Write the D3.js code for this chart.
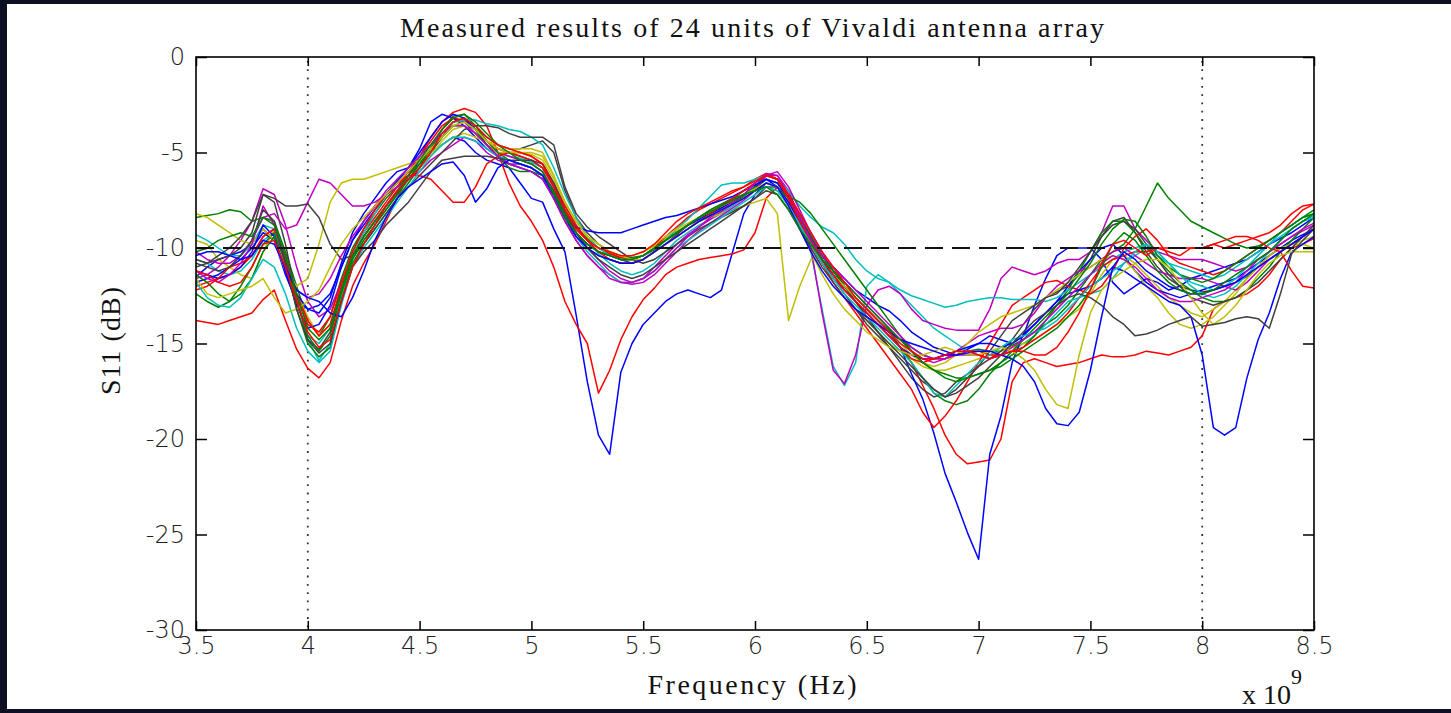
<!DOCTYPE html>
<html><head><meta charset="utf-8">
<script src="https://cdn.jsdelivr.net/npm/d3@7/dist/d3.min.js"></script>
<style>html,body{margin:0;padding:0;background:#0c1022;overflow:hidden}svg{display:block}</style>
</head><body><svg id="c" width="1451" height="713"></svg>
<script>
// ---------- DATA ----------
const freqGHz = [3.50,3.55,3.60,3.65,3.70,3.75,3.80,3.85,3.90,3.95,
4.00,4.05,4.10,4.15,4.20,4.25,4.30,4.35,4.40,4.45,
4.50,4.55,4.60,4.65,4.70,4.75,4.80,4.85,4.90,4.95,
5.00,5.05,5.10,5.15,5.20,5.25,5.30,5.35,5.40,5.45,
5.50,5.55,5.60,5.65,5.70,5.75,5.80,5.85,5.90,5.95,
6.00,6.05,6.10,6.15,6.20,6.25,6.30,6.35,6.40,6.45,
6.50,6.55,6.60,6.65,6.70,6.75,6.80,6.85,6.90,6.95,
7.00,7.05,7.10,7.15,7.20,7.25,7.30,7.35,7.40,7.45,
7.50,7.55,7.60,7.65,7.70,7.75,7.80,7.85,7.90,7.95,
8.00,8.05,8.10,8.15,8.20,8.25,8.30,8.35,8.40,8.45,8.50];

const unit01 = [-11.5,-11.0,-10.6,-10.4,-10.2,-9.8,-9.0,-9.6,-11.4,-12.8,
-13.2,-13.0,-12.4,-11.0,-9.6,-8.6,-7.8,-7.2,-6.6,-6.0,
-5.6,-5.0,-4.6,-4.2,-4.4,-5.0,-5.4,-5.6,-5.8,-6.6,
-7.4,-7.6,-9.0,-10.2,-13.5,-17.0,-19.8,-20.8,-16.5,-15.0,
-14.0,-13.4,-12.8,-12.4,-12.2,-12.4,-12.6,-12.2,-10.2,-8.2,
-7.2,-6.6,-6.8,-7.6,-8.6,-9.6,-10.4,-11.0,-11.6,-12.2,
-12.6,-13.0,-13.3,-13.8,-14.4,-14.8,-15.2,-15.4,-15.6,-15.3,
-15.0,-14.6,-14.8,-15.0,-14.6,-13.0,-11.6,-10.4,-10.0,-10.0,
-10.0,-10.6,-11.8,-12.4,-12.0,-11.6,-11.8,-12.2,-12.0,-11.6,
-11.4,-11.2,-11.0,-10.8,-10.6,-10.2,-9.8,-9.5,-9.2,-8.8,-8.4];
const unit02 = [-8.4,-8.3,-8.2,-8.0,-8.1,-8.6,-8.4,-8.6,-10.2,-12.0,
-13.8,-14.6,-13.6,-11.6,-10.0,-9.0,-8.2,-7.4,-6.8,-6.2,
-5.6,-4.8,-4.0,-3.4,-3.3,-3.8,-4.4,-4.8,-5.0,-5.2,
-5.4,-5.8,-6.8,-8.0,-8.9,-9.5,-10.0,-10.3,-10.4,-10.5,
-10.4,-10.1,-9.6,-9.2,-8.8,-8.4,-8.2,-7.9,-7.6,-7.2,
-6.9,-6.4,-6.6,-7.4,-8.4,-9.4,-10.4,-11.2,-12.0,-12.6,
-13.2,-13.8,-14.3,-14.8,-15.2,-15.6,-15.8,-15.8,-15.6,-15.4,
-15.3,-15.4,-15.4,-15.1,-14.8,-14.4,-14.0,-13.6,-13.0,-12.2,
-11.4,-10.6,-10.2,-9.8,-9.0,-7.8,-6.6,-7.4,-8.0,-8.6,
-8.9,-9.2,-9.5,-9.8,-10.0,-9.9,-9.6,-9.2,-8.8,-8.4,-8.0];
const unit03 = [-13.8,-13.9,-14.0,-13.8,-13.6,-13.4,-12.7,-12.2,-13.8,-15.3,
-16.3,-16.8,-16.0,-13.8,-12.0,-10.8,-9.8,-8.6,-7.4,-6.2,
-5.2,-4.2,-3.4,-2.9,-2.7,-2.9,-3.6,-5.0,-6.6,-7.8,
-8.6,-9.6,-11.0,-12.8,-14.0,-15.0,-17.6,-16.4,-14.8,-13.6,
-12.7,-12.1,-11.4,-11.0,-10.8,-10.6,-10.5,-10.4,-10.3,-10.1,
-9.2,-7.4,-6.8,-7.6,-8.8,-9.8,-10.8,-11.6,-12.2,-12.8,
-13.4,-14.0,-14.6,-15.2,-16.0,-17.2,-18.4,-19.8,-20.8,-21.3,
-21.2,-21.1,-20.0,-17.0,-16.0,-15.8,-16.0,-16.2,-16.1,-16.0,
-15.8,-15.6,-15.7,-15.7,-15.6,-15.4,-15.5,-15.6,-15.4,-15.2,
-14.6,-13.2,-12.8,-12.6,-12.4,-12.0,-11.4,-10.6,-10.0,-9.8,-9.5];
const unit04 = [-10.6,-10.8,-11.2,-11.4,-11.2,-10.6,-9.6,-9.2,-10.4,-12.6,
-14.8,-15.9,-15.0,-12.6,-10.6,-9.6,-8.8,-8.0,-7.2,-6.4,
-5.8,-5.0,-4.2,-3.6,-3.6,-4.0,-4.6,-5.0,-5.2,-5.3,
-5.5,-5.8,-6.6,-7.8,-8.8,-9.6,-10.3,-10.8,-11.2,-11.4,
-11.2,-10.8,-10.2,-9.6,-9.2,-8.8,-8.5,-8.2,-7.8,-7.4,
-7.0,-6.6,-6.8,-7.8,-8.8,-10.2,-13.2,-16.2,-17.2,-16.0,
-12.0,-11.4,-11.8,-12.4,-13.0,-13.6,-14.2,-14.6,-15.0,-15.4,
-15.6,-15.8,-15.6,-15.4,-15.0,-14.6,-14.0,-13.4,-12.8,-12.6,
-12.4,-12.2,-11.6,-10.8,-10.4,-10.0,-10.4,-10.8,-11.0,-11.2,
-11.4,-11.6,-11.4,-11.0,-10.6,-10.2,-9.8,-9.4,-9.0,-8.6,-8.3];
const unit05 = [-11.6,-11.4,-11.0,-10.4,-9.6,-8.6,-6.9,-7.2,-8.8,-11.0,
-12.8,-13.6,-13.2,-11.8,-10.4,-9.4,-8.6,-7.8,-7.0,-6.2,
-5.4,-4.6,-3.8,-3.2,-3.4,-4.0,-4.6,-5.0,-5.2,-5.4,
-5.6,-6.0,-7.0,-8.2,-9.2,-10.0,-10.6,-11.2,-11.6,-11.8,
-11.6,-11.0,-10.4,-9.8,-9.3,-8.9,-8.5,-8.1,-7.7,-7.2,
-6.8,-6.2,-6.2,-7.0,-8.4,-10.0,-13.4,-16.4,-17.1,-15.6,
-13.0,-12.2,-12.0,-12.4,-13.2,-13.8,-14.0,-14.2,-14.3,-14.3,
-14.3,-13.2,-11.6,-11.0,-11.2,-11.4,-11.2,-10.8,-10.6,-10.6,
-10.2,-9.2,-7.8,-7.8,-9.0,-9.6,-10.2,-10.4,-10.6,-10.6,
-10.6,-10.8,-11.0,-11.2,-11.0,-10.6,-10.2,-9.8,-9.4,-9.1,-8.8];
const unit06 = [-9.6,-9.8,-10.6,-11.0,-11.4,-11.6,-10.2,-9.0,-10.6,-12.4,
-13.6,-14.6,-14.0,-12.0,-10.4,-9.4,-8.6,-7.8,-7.0,-6.4,
-5.8,-5.2,-4.4,-3.8,-3.6,-4.0,-4.6,-5.0,-5.0,-5.0,
-5.1,-5.4,-6.4,-7.6,-8.6,-9.4,-10.0,-10.2,-10.4,-10.4,
-10.2,-9.9,-9.5,-9.1,-8.8,-8.6,-8.4,-8.2,-8.0,-7.8,
-7.6,-7.4,-8.2,-13.8,-12.0,-10.6,-10.7,-11.0,-12.0,-12.8,
-13.8,-14.4,-15.0,-15.4,-15.8,-16.2,-16.4,-16.4,-16.2,-16.0,
-15.8,-15.6,-15.4,-15.2,-15.0,-14.8,-14.4,-14.0,-13.6,-13.2,
-12.4,-11.4,-10.6,-10.4,-10.8,-11.4,-12.0,-12.6,-13.0,-13.4,
-13.6,-13.2,-12.8,-12.2,-11.6,-11.0,-10.4,-10.0,-9.8,-9.6,-9.4];
const unit07 = [-10.6,-10.8,-10.6,-10.4,-10.0,-9.2,-7.2,-7.6,-9.8,-12.6,
-14.8,-15.3,-14.4,-12.2,-10.4,-9.4,-8.6,-7.8,-7.1,-6.4,
-5.8,-5.0,-4.2,-3.4,-3.2,-3.6,-4.2,-4.6,-4.8,-4.8,
-4.6,-4.4,-5.0,-7.0,-8.4,-9.2,-9.8,-10.2,-10.6,-10.8,
-10.6,-10.2,-9.8,-9.3,-8.8,-8.4,-8.0,-7.7,-7.4,-7.0,
-6.6,-6.2,-6.4,-7.2,-8.2,-9.2,-10.2,-11.2,-12.0,-12.8,
-13.6,-14.4,-15.2,-16.0,-16.8,-17.4,-17.8,-17.6,-17.0,-16.6,
-16.2,-15.8,-15.4,-14.8,-14.0,-13.2,-12.6,-12.3,-12.0,-11.4,
-10.6,-9.4,-8.6,-8.4,-9.2,-10.2,-11.0,-11.6,-12.0,-12.2,
-12.3,-12.2,-12.0,-11.8,-11.5,-11.0,-10.6,-10.2,-9.8,-9.4,-9.0];
const unit08 = [-11.8,-11.6,-11.4,-11.0,-10.6,-10.0,-9.2,-9.6,-11.0,-12.4,
-13.2,-13.4,-12.6,-10.8,-9.2,-8.2,-7.4,-6.6,-6.0,-5.8,
-4.8,-3.4,-3.0,-3.2,-3.6,-4.2,-4.8,-5.2,-5.4,-5.6,
-5.8,-6.2,-7.0,-8.2,-9.2,-9.8,-10.2,-10.4,-10.6,-10.6,
-10.4,-10.0,-9.6,-9.2,-8.8,-8.5,-8.2,-7.9,-7.6,-7.2,
-6.8,-6.4,-6.6,-7.4,-8.4,-9.4,-10.4,-11.2,-12.0,-12.6,
-13.2,-13.8,-14.4,-15.2,-16.6,-17.9,-19.7,-21.8,-23.3,-24.9,
-26.3,-20.8,-18.8,-16.0,-14.5,-14.0,-13.4,-12.8,-12.0,-11.2,
-10.6,-10.0,-9.8,-10.4,-11.2,-11.8,-12.2,-12.4,-12.6,-12.4,
-12.2,-12.0,-11.8,-11.6,-11.2,-10.8,-10.4,-10.0,-9.6,-9.3,-9.0];
const unit09 = [-12.4,-12.8,-13.1,-12.8,-12.0,-11.0,-9.8,-9.2,-10.8,-13.2,
-15.0,-15.7,-15.2,-12.8,-10.8,-9.8,-9.0,-8.2,-7.4,-6.6,
-5.8,-4.8,-3.8,-3.1,-3.0,-3.6,-4.4,-5.0,-5.4,-5.6,
-5.8,-6.2,-7.4,-8.6,-9.4,-10.0,-10.4,-10.6,-10.8,-10.8,
-10.6,-10.2,-9.8,-9.4,-9.0,-8.6,-8.3,-8.0,-7.7,-7.3,
-6.8,-6.2,-6.4,-7.4,-8.4,-9.4,-10.4,-11.2,-12.0,-12.6,
-13.2,-13.8,-14.4,-15.2,-16.0,-16.8,-17.6,-18.0,-18.2,-18.0,
-17.4,-16.6,-16.0,-15.6,-15.2,-14.6,-13.8,-13.0,-12.2,-11.2,
-10.2,-9.2,-8.6,-8.6,-9.2,-10.0,-10.6,-11.2,-11.8,-12.2,
-12.6,-12.8,-12.8,-12.6,-12.2,-11.6,-11.0,-10.2,-9.6,-9.0,-8.4];
const unit10 = [-12.0,-11.8,-11.6,-11.4,-11.0,-10.4,-9.4,-9.0,-10.6,-12.6,
-14.0,-14.4,-13.6,-11.8,-10.2,-9.2,-8.4,-7.6,-6.8,-6.0,
-5.2,-4.4,-3.6,-3.2,-3.3,-3.8,-4.4,-4.8,-5.0,-5.2,
-5.4,-5.8,-6.8,-8.0,-9.0,-9.6,-10.0,-10.3,-10.5,-10.6,
-10.4,-10.0,-9.4,-8.9,-8.4,-8.0,-7.7,-7.4,-7.1,-6.8,
-6.4,-6.1,-6.4,-7.4,-8.6,-9.8,-10.8,-11.8,-12.6,-13.4,
-14.2,-15.0,-15.8,-16.6,-17.4,-18.6,-19.4,-18.8,-18.0,-17.0,
-16.0,-15.0,-14.0,-13.0,-12.6,-12.2,-11.8,-11.7,-12.0,-12.2,
-12.4,-12.0,-11.2,-10.0,-9.4,-9.0,-9.6,-10.4,-10.8,-11.0,
-11.2,-11.4,-11.2,-10.8,-10.4,-10.0,-9.6,-9.2,-8.6,-8.0,-7.7];
const unit11 = [-9.3,-9.6,-10.0,-10.4,-10.4,-9.8,-8.8,-9.0,-10.6,-12.8,
-14.6,-15.0,-14.2,-12.0,-10.2,-9.2,-8.2,-7.2,-6.4,-5.8,
-5.2,-4.6,-4.0,-3.4,-3.3,-3.3,-3.5,-3.6,-3.8,-3.9,
-4.2,-4.6,-5.8,-7.2,-8.4,-9.4,-10.0,-10.4,-10.6,-10.6,
-10.4,-10.0,-9.6,-9.0,-8.5,-7.9,-7.3,-6.7,-6.6,-6.6,
-6.4,-6.2,-6.4,-7.0,-7.8,-8.4,-8.9,-9.2,-9.8,-10.6,
-11.2,-11.6,-11.8,-12.2,-12.5,-12.7,-12.9,-13.1,-13.0,-12.8,
-12.7,-12.6,-12.6,-12.7,-12.7,-12.7,-12.8,-12.6,-12.2,-11.8,
-11.4,-11.0,-10.6,-10.2,-10.0,-9.8,-10.2,-10.8,-11.4,-11.8,
-12.0,-12.2,-12.0,-11.6,-11.0,-10.4,-9.8,-9.2,-8.8,-8.4,-8.2];
const unit12 = [-10.2,-10.6,-10.8,-10.8,-10.4,-9.6,-8.4,-8.2,-9.0,-8.8,
-7.6,-6.4,-6.6,-7.2,-7.8,-7.8,-7.6,-7.2,-6.8,-6.4,
-6.0,-5.4,-5.0,-4.6,-4.2,-4.4,-5.0,-5.4,-5.6,-5.6,
-5.8,-6.2,-7.4,-8.6,-9.6,-10.4,-11.0,-11.4,-11.8,-11.9,
-11.8,-11.4,-10.8,-10.2,-9.6,-9.1,-8.7,-8.3,-7.9,-7.5,
-7.0,-6.2,-6.0,-6.8,-8.0,-9.2,-10.2,-11.0,-11.8,-12.4,
-13.0,-13.6,-14.2,-14.8,-15.4,-15.8,-16.0,-15.8,-15.4,-15.0,
-14.6,-14.4,-14.2,-14.2,-14.0,-13.4,-12.6,-12.0,-11.6,-11.2,
-11.0,-10.6,-10.2,-10.0,-10.4,-10.8,-11.2,-11.4,-11.6,-11.6,
-11.6,-11.8,-12.0,-12.2,-11.8,-11.2,-10.6,-10.2,-9.8,-9.4,-9.0];
const unit13 = [-8.2,-8.4,-8.8,-9.2,-9.6,-9.8,-9.0,-9.6,-11.2,-12.0,
-11.6,-9.8,-7.6,-6.6,-6.4,-6.4,-6.2,-6.0,-5.8,-5.6,
-5.4,-5.0,-4.6,-4.2,-4.0,-4.2,-4.4,-4.6,-4.8,-4.8,
-4.8,-5.0,-6.2,-7.6,-8.6,-9.4,-9.8,-10.2,-10.4,-10.4,
-10.2,-9.8,-9.4,-9.0,-8.7,-8.4,-8.1,-7.8,-7.5,-7.2,
-6.9,-6.6,-6.8,-7.6,-8.6,-9.6,-10.6,-11.4,-12.0,-12.6,
-13.2,-13.8,-14.4,-15.0,-15.6,-16.0,-16.2,-16.0,-15.6,-15.0,
-14.4,-14.0,-13.6,-13.4,-13.2,-13.0,-12.6,-12.2,-11.8,-11.4,
-11.0,-10.6,-10.4,-10.6,-11.2,-12.0,-12.6,-13.4,-14.0,-14.2,
-14.0,-13.6,-13.0,-12.4,-11.6,-11.0,-10.4,-10.0,-9.8,-9.8,-10.0];
const unit14 = [-11.0,-10.8,-10.4,-10.0,-9.4,-8.6,-7.2,-7.4,-7.8,-7.8,
-7.7,-8.4,-9.8,-10.6,-10.4,-9.8,-9.0,-8.2,-7.4,-6.8,
-6.2,-5.6,-5.0,-4.4,-3.8,-3.6,-3.6,-3.7,-4.0,-4.2,
-4.2,-4.2,-4.6,-6.8,-8.2,-8.9,-9.4,-9.8,-10.2,-10.6,
-10.8,-10.6,-10.2,-9.8,-9.4,-9.0,-8.7,-8.4,-8.1,-7.8,
-7.4,-6.8,-6.8,-7.4,-8.4,-9.4,-10.6,-11.6,-12.4,-13.2,
-14.0,-14.6,-15.2,-15.8,-16.4,-17.0,-17.4,-17.8,-17.4,-16.8,
-16.2,-15.4,-14.6,-13.8,-13.4,-13.0,-12.6,-12.4,-11.8,-11.0,
-10.2,-9.4,-8.8,-8.6,-9.0,-9.8,-10.6,-11.4,-12.0,-12.6,
-12.8,-13.0,-12.8,-12.6,-12.2,-11.8,-11.2,-10.6,-10.0,-9.4,-8.8];
const unit15 = [-11.2,-11.4,-11.6,-11.4,-11.0,-10.2,-8.8,-9.4,-11.2,-13.0,
-14.2,-14.0,-13.0,-11.0,-9.6,-8.8,-8.0,-7.2,-6.5,-5.8,
-5.0,-4.2,-3.4,-3.0,-3.2,-3.8,-4.6,-5.2,-5.6,-5.8,
-6.0,-6.4,-7.4,-8.4,-8.9,-9.1,-9.2,-9.2,-9.2,-9.0,
-8.8,-8.6,-8.4,-8.3,-8.1,-7.9,-7.7,-7.5,-7.3,-7.0,
-6.7,-6.4,-6.8,-7.6,-8.6,-9.6,-10.6,-11.4,-12.2,-12.8,
-13.4,-14.0,-14.6,-15.2,-15.6,-15.8,-15.8,-15.6,-15.4,-15.2,
-15.0,-15.0,-15.2,-15.0,-14.6,-14.0,-13.4,-12.8,-12.4,-12.2,
-12.0,-11.6,-11.0,-11.2,-11.6,-12.0,-12.4,-12.8,-13.0,-13.6,
-15.6,-19.4,-19.8,-19.4,-16.8,-14.8,-13.4,-11.6,-10.2,-9.8,-9.4];
const unit16 = [-11.4,-11.8,-12.4,-12.8,-12.4,-11.6,-10.2,-9.4,-10.6,-12.8,
-14.6,-15.4,-14.6,-12.4,-10.6,-9.6,-8.8,-8.0,-7.2,-6.4,
-5.6,-4.8,-4.2,-3.6,-3.4,-3.8,-4.6,-5.2,-5.8,-6.0,
-6.0,-6.2,-7.0,-8.2,-9.2,-9.8,-10.2,-10.4,-10.6,-10.6,
-10.4,-10.0,-9.6,-9.2,-8.8,-8.4,-8.0,-7.7,-7.4,-7.2,
-7.0,-6.8,-7.0,-7.3,-7.6,-8.2,-9.0,-9.8,-10.6,-11.4,
-12.2,-13.0,-13.8,-14.6,-15.4,-16.0,-16.4,-16.6,-16.8,-16.8,
-16.6,-16.4,-16.0,-15.4,-14.8,-14.2,-13.6,-13.0,-12.4,-11.6,
-10.8,-9.8,-9.0,-8.5,-8.6,-9.4,-10.4,-11.0,-11.4,-11.6,
-11.8,-11.6,-11.2,-10.8,-10.4,-10.0,-9.6,-9.2,-8.8,-8.4,-8.2];
const unit17 = [-12.2,-12.0,-11.6,-11.0,-10.8,-10.4,-9.4,-9.0,-10.4,-12.4,
-13.8,-14.6,-14.0,-12.0,-10.2,-9.0,-8.0,-7.2,-6.6,-6.2,
-6.2,-6.4,-7.0,-7.6,-7.6,-6.8,-5.6,-5.2,-5.0,-5.0,
-5.2,-5.6,-6.6,-7.8,-8.8,-9.6,-10.2,-10.6,-10.8,-10.8,
-10.6,-10.2,-9.8,-9.4,-9.0,-8.6,-8.2,-7.8,-7.4,-7.0,
-6.6,-6.2,-6.4,-7.4,-8.6,-9.6,-10.6,-11.4,-12.2,-12.8,
-13.4,-14.0,-14.6,-15.2,-15.8,-16.0,-15.8,-15.6,-15.6,-15.4,
-15.4,-15.6,-15.6,-15.4,-15.2,-14.8,-14.4,-14.0,-13.4,-12.6,
-11.8,-11.0,-10.6,-10.4,-10.2,-10.2,-10.0,-10.0,-10.0,-10.0,
-10.0,-9.8,-9.6,-9.4,-9.4,-9.6,-10.0,-10.2,-11.2,-12.0,-12.1];
const unit18 = [-11.8,-12.6,-13.0,-13.1,-12.6,-11.6,-10.6,-11.0,-12.4,-14.2,
-15.4,-16.0,-15.4,-13.0,-11.0,-10.0,-9.2,-8.4,-7.6,-6.8,
-6.0,-5.2,-4.6,-4.2,-4.2,-4.4,-4.8,-5.2,-5.4,-5.6,
-5.8,-6.2,-7.2,-8.4,-9.4,-10.2,-10.8,-11.4,-11.8,-11.8,
-11.6,-11.2,-10.6,-10.0,-9.6,-9.2,-8.8,-8.4,-8.0,-7.6,
-7.2,-6.8,-7.0,-7.8,-8.8,-9.8,-10.8,-11.6,-12.4,-13.0,
-13.6,-14.2,-14.8,-15.4,-16.0,-16.8,-17.6,-17.8,-17.2,-16.6,
-16.0,-15.6,-15.2,-14.8,-14.6,-14.4,-14.2,-13.8,-13.2,-12.6,
-12.0,-11.6,-11.2,-10.8,-10.2,-9.8,-10.2,-10.8,-11.4,-12.0,
-12.4,-12.6,-12.4,-12.0,-11.4,-10.8,-10.2,-9.6,-9.0,-8.6,-8.4];
const unit19 = [-11.2,-11.6,-11.8,-11.4,-10.8,-9.8,-7.8,-8.8,-10.8,-12.2,
-12.6,-12.4,-11.6,-10.4,-9.4,-8.6,-7.8,-7.0,-6.4,-5.8,
-5.2,-4.6,-4.0,-3.6,-3.6,-4.0,-4.6,-5.2,-5.6,-5.8,
-6.0,-6.4,-7.4,-8.6,-9.6,-10.4,-11.0,-11.6,-11.8,-11.8,
-11.6,-11.2,-10.6,-10.0,-9.4,-8.9,-8.4,-8.0,-7.6,-7.2,
-6.6,-6.1,-6.2,-7.2,-8.4,-9.6,-10.4,-11.0,-11.6,-12.2,
-12.8,-13.4,-14.0,-14.6,-15.2,-15.6,-15.8,-15.8,-15.6,-15.6,
-15.6,-15.8,-15.6,-15.2,-14.8,-14.4,-13.8,-13.2,-12.6,-12.0,
-11.4,-10.8,-10.4,-10.6,-11.0,-11.6,-12.2,-12.6,-12.8,-12.8,
-12.6,-12.4,-12.2,-11.8,-11.2,-10.6,-10.2,-9.8,-9.4,-9.0,-8.7];
const unit20 = [-11.6,-12.4,-12.6,-12.4,-12.2,-12.0,-11.6,-12.6,-13.4,-13.2,
-12.8,-12.2,-11.0,-9.8,-9.0,-8.4,-7.8,-7.2,-6.6,-6.0,
-5.4,-4.8,-4.2,-3.6,-3.4,-3.8,-4.4,-4.8,-5.0,-5.0,
-5.0,-5.2,-6.2,-7.6,-8.6,-9.4,-9.8,-10.2,-10.4,-10.6,
-10.6,-10.2,-9.8,-9.4,-9.0,-8.6,-8.3,-8.0,-7.7,-7.4,
-7.0,-6.6,-6.8,-7.8,-9.0,-10.2,-11.4,-12.4,-13.2,-13.8,
-14.4,-14.8,-15.2,-15.4,-15.6,-15.6,-15.4,-15.2,-15.4,-15.6,
-15.6,-15.4,-15.2,-15.4,-15.8,-16.4,-17.4,-18.2,-18.4,-15.6,
-13.4,-12.2,-11.6,-11.2,-10.8,-10.6,-10.6,-11.0,-11.8,-12.6,
-13.4,-14.0,-13.6,-13.0,-12.2,-11.4,-10.8,-10.4,-10.2,-10.2,-10.2];
const unit21 = [-10.8,-11.0,-11.2,-11.0,-10.4,-9.6,-8.0,-8.6,-10.8,-13.2,
-14.8,-15.5,-15.0,-12.8,-11.0,-10.2,-9.6,-8.8,-8.2,-7.6,
-6.8,-6.0,-5.4,-5.3,-5.2,-5.2,-5.2,-5.3,-5.4,-5.4,
-5.4,-5.6,-6.6,-8.0,-9.2,-10.0,-10.6,-11.0,-11.4,-11.6,
-11.4,-11.0,-10.6,-10.2,-9.8,-9.4,-9.0,-8.6,-8.2,-7.8,
-7.4,-7.0,-7.2,-8.0,-9.0,-10.0,-11.0,-11.8,-12.6,-13.2,
-13.8,-14.4,-15.0,-15.6,-16.2,-16.8,-17.4,-17.8,-17.6,-17.2,
-16.8,-16.2,-15.6,-15.0,-14.4,-13.8,-13.4,-13.0,-12.6,-12.4,
-12.6,-13.0,-13.6,-14.0,-14.6,-14.5,-14.3,-14.0,-13.8,-13.6,
-14.1,-14.0,-13.9,-13.7,-13.6,-13.7,-14.2,-12.4,-10.3,-9.6,-9.0];
const unit22 = [-10.4,-10.2,-10.2,-10.4,-10.6,-10.4,-9.6,-9.8,-11.0,-12.2,
-12.6,-12.8,-13.4,-13.6,-12.6,-11.2,-9.6,-8.4,-7.4,-6.8,
-6.4,-6.0,-5.6,-5.5,-6.2,-7.6,-6.9,-5.8,-5.4,-5.6,
-5.8,-6.2,-7.2,-8.4,-9.4,-10.0,-10.4,-10.6,-10.8,-10.8,
-10.6,-10.2,-9.8,-9.4,-9.0,-8.6,-8.3,-8.0,-7.7,-7.4,
-7.0,-6.6,-6.8,-7.8,-9.0,-10.2,-11.2,-12.0,-12.6,-13.2,
-13.6,-14.0,-14.4,-14.8,-15.0,-15.2,-15.4,-15.6,-15.6,-15.5,
-15.4,-15.4,-15.6,-15.8,-16.2,-17.0,-18.4,-19.2,-19.3,-18.6,
-16.4,-13.6,-11.0,-10.2,-10.6,-11.2,-11.6,-12.0,-12.2,-12.4,
-12.4,-12.2,-12.0,-11.8,-11.4,-11.0,-10.6,-10.2,-9.8,-9.4,-9.0];
const unit23 = [-10.2,-10.0,-9.6,-9.4,-9.2,-9.4,-8.4,-8.8,-10.4,-12.4,
-14.2,-14.8,-14.2,-12.2,-10.4,-9.4,-8.6,-7.8,-7.0,-6.2,
-5.4,-4.6,-3.8,-3.2,-3.0,-3.4,-4.0,-4.6,-5.0,-5.4,
-5.6,-6.0,-7.2,-8.4,-9.2,-9.8,-10.2,-10.4,-10.6,-10.6,
-10.4,-10.0,-9.6,-9.2,-8.8,-8.4,-8.1,-7.8,-7.5,-7.2,
-7.0,-6.8,-7.2,-8.0,-9.0,-9.8,-10.6,-11.2,-11.8,-12.4,
-13.0,-13.6,-14.2,-14.8,-15.4,-16.0,-16.4,-16.8,-17.0,-16.8,
-16.6,-16.4,-16.2,-15.8,-15.4,-15.0,-14.6,-14.2,-13.6,-13.0,
-12.2,-11.0,-9.8,-9.2,-9.6,-10.4,-11.2,-11.8,-12.2,-12.4,
-12.4,-12.2,-11.8,-11.4,-11.0,-10.6,-10.2,-9.6,-9.0,-8.6,-8.2];
const unit24 = [-11.2,-11.4,-11.8,-12.0,-11.8,-11.0,-9.8,-9.6,-11.0,-12.8,
-14.4,-15.2,-14.8,-12.8,-11.0,-9.8,-8.8,-7.8,-7.0,-6.4,
-5.8,-5.0,-4.0,-3.4,-3.2,-3.6,-4.2,-4.6,-4.8,-5.0,
-5.2,-5.6,-6.8,-8.0,-9.0,-9.6,-10.0,-10.2,-10.4,-10.4,
-10.2,-9.8,-9.2,-8.6,-8.2,-7.9,-7.6,-7.3,-7.0,-6.8,
-6.5,-6.2,-6.4,-7.2,-8.2,-9.2,-10.2,-11.0,-11.8,-12.6,
-13.2,-13.8,-14.4,-15.0,-15.4,-15.8,-15.8,-15.6,-15.4,-15.4,
-15.6,-15.8,-15.6,-15.4,-15.4,-15.6,-15.6,-15.2,-14.4,-13.4,
-12.2,-10.8,-9.8,-9.6,-10.0,-10.4,-10.0,-10.2,-10.4,-10.0,
-10.0,-9.8,-10.0,-9.8,-9.6,-9.4,-9.2,-8.8,-8.2,-7.8,-7.7];

const units = [unit01,unit02,unit03,unit04,unit05,unit06,unit07,unit08,unit09,unit10,unit11,unit12,
               unit13,unit14,unit15,unit16,unit17,unit18,unit19,unit20,unit21,unit22,unit23,unit24];
const colorOrder = ["#0000ff","#008000","#ff0000","#00bfbf","#bf00bf","#bfbf00","#404040"];
const xTicks = [3.5,4,4.5,5,5.5,6,6.5,7,7.5,8,8.5];
const xTickLabels = ["3.5","4","4.5","5","5.5","6","6.5","7","7.5","8","8.5"];
const yTicks = [0,-5,-10,-15,-20,-25,-30];
const yTickLabels = ["0","-5","-10","-15","-20","-25","-30"];
const thresholdDB = -10;
const bandEdgesGHz = [4,8];
const titleText = "Measured results of 24 units of Vivaldi antenna array";
const xLabelText = "Frequency (Hz)";
const yLabelText = "S11 (dB)";

// ---------- DRAW ----------
const svg = d3.select("#c");
const W = 1451, H = 713;
svg.append("rect").attr("x",0).attr("y",0).attr("width",W).attr("height",H).attr("fill","#0c1022");
svg.append("rect").attr("x",7).attr("y",4).attr("width",W-7).attr("height",705).attr("fill","#ffffff");

const L = 196, R = 1314, T = 57, B = 630;
const x = d3.scaleLinear().domain([3.5,8.5]).range([L,R]);
const y = d3.scaleLinear().domain([0,-30]).range([T,B]);

svg.append("clipPath").attr("id","plotclip").append("rect")
  .attr("x",L).attr("y",T).attr("width",R-L).attr("height",B-T);

const plot = svg.append("g").attr("clip-path","url(#plotclip)");

// band-edge dotted verticals
plot.selectAll("line.edge").data(bandEdgesGHz).enter().append("line")
  .attr("x1",d=>x(d)).attr("x2",d=>x(d)).attr("y1",T+4).attr("y2",B)
  .attr("stroke","#333").attr("stroke-width",1.8).attr("stroke-dasharray","1.8,6.5");

// curves
const line = d3.line().x((d,i)=>x(freqGHz[i])).y(d=>y(d)).curve(d3.curveLinear);
plot.selectAll("path.unit").data(units).enter().append("path")
  .attr("class","unit")
  .attr("d",d=>line(d))
  .attr("fill","none")
  .attr("stroke",(d,i)=>colorOrder[i%colorOrder.length])
  .attr("stroke-width",1.5)
  .attr("stroke-linejoin","round");

// threshold dashed line
plot.append("line").attr("x1",L).attr("x2",R).attr("y1",y(thresholdDB)).attr("y2",y(thresholdDB))
  .attr("stroke","#111").attr("stroke-width",1.8).attr("stroke-dasharray","18,9");

// axes (inward ticks)
const tickFont = "'DejaVu Sans', Verdana, sans-serif";
const axB = svg.append("g").attr("transform",`translate(0,${B})`)
  .call(d3.axisBottom(x).tickValues(xTicks).tickFormat((d,i)=>xTickLabels[i]).tickSizeInner(-9).tickSizeOuter(0).tickPadding(7));
const axT = svg.append("g").attr("transform",`translate(0,${T})`)
  .call(d3.axisTop(x).tickValues(xTicks).tickFormat("").tickSizeInner(-9).tickSizeOuter(0));
const axL = svg.append("g").attr("transform",`translate(${L},0)`)
  .call(d3.axisLeft(y).tickValues(yTicks).tickFormat((d,i)=>yTickLabels[i]).tickSizeInner(-11).tickSizeOuter(0).tickPadding(11));
const axR = svg.append("g").attr("transform",`translate(${R},0)`)
  .call(d3.axisRight(y).tickValues(yTicks).tickFormat("").tickSizeInner(-11).tickSizeOuter(0));
[axB,axT,axL,axR].forEach(a=>{
  a.select(".domain").remove();
  a.selectAll(".tick line").attr("stroke","#000").attr("stroke-width",1.5);
  a.selectAll(".tick text").attr("fill","#222").style("font-family",tickFont).style("font-size","24px").style("font-weight","300");
});

// frame
svg.append("rect").attr("x",L).attr("y",T).attr("width",R-L).attr("height",B-T)
  .attr("fill","none").attr("stroke","#000").attr("stroke-width",1.6);

// texts
const serif = "'Liberation Serif','Times New Roman',serif";
svg.append("text").attr("x",752).attr("y",37).attr("text-anchor","middle")
  .attr("textLength",704).attr("lengthAdjust","spacing")
  .style("font-family",serif).style("font-size","28px").attr("fill","#111").text(titleText);
svg.append("text").attr("x",752).attr("y",694).attr("text-anchor","middle")
  .attr("textLength",209).attr("lengthAdjust","spacing")
  .style("font-family",serif).style("font-size","28px").attr("fill","#111").text(xLabelText);
svg.append("text").attr("transform","translate(120,341) rotate(-90)").attr("text-anchor","middle")
  .attr("textLength",108).attr("lengthAdjust","spacing")
  .style("font-family",serif).style("font-size","28px").attr("fill","#111").text(yLabelText);
const ex = svg.append("text").attr("x",1242).attr("y",704)
  .style("font-family",serif).style("font-size","28px").attr("fill","#111");
ex.append("tspan").text("x 10");
ex.append("tspan").attr("dy",-20).style("font-size","22px").text("9");
</script>
</body></html>
